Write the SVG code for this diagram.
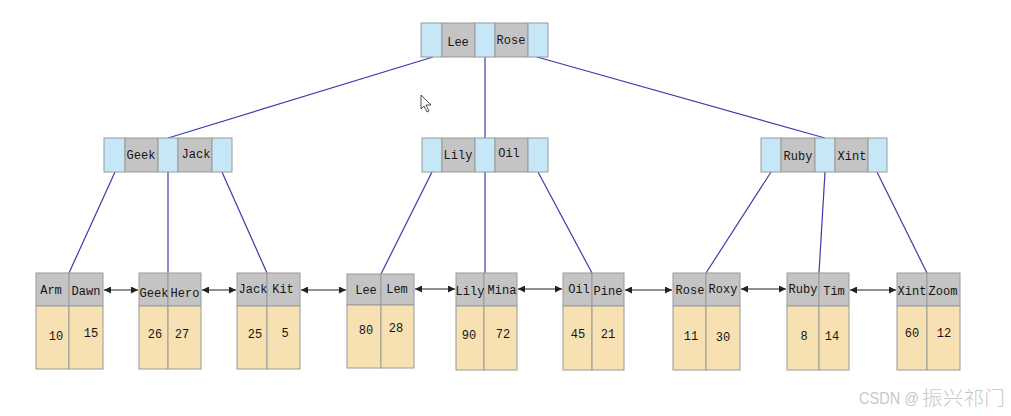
<svg xmlns="http://www.w3.org/2000/svg" width="1011" height="416" viewBox="0 0 1011 416">
<defs>
<style>
.p{fill:#c6e7f6;stroke:#9a9a9a;stroke-width:1}
.k{fill:#c4c4c4;stroke:#9a9a9a;stroke-width:1}
.d{fill:#f7e1b2;stroke:#9a9a9a;stroke-width:1}
.t{font-family:"Liberation Mono","Courier New",monospace;font-size:12px;fill:#151515;text-anchor:middle}
.e{stroke:#3b3bab;stroke-width:1.2;fill:none}
.a{stroke:#222;stroke-width:1;fill:none;marker-start:url(#ah);marker-end:url(#ah)}
.wm{font-family:"Liberation Sans","Noto Sans CJK SC",sans-serif;fill:#c8c8c8}
</style>
<marker id="ah" viewBox="0 0 10 10" refX="10" refY="5" markerWidth="9" markerHeight="7" markerUnits="userSpaceOnUse" orient="auto-start-reverse">
<path d="M0,0 L10,5 L0,10 z" fill="#222"/>
</marker>
</defs>
<rect width="1011" height="416" fill="#ffffff"/>

<g id="connectors">
<line class="e" x1="433" y1="57" x2="168" y2="138"/>
<line class="e" x1="485" y1="57" x2="485" y2="138"/>
<line class="e" x1="537" y1="57" x2="825" y2="138"/>
<line class="e" x1="115" y1="172" x2="69" y2="273"/>
<line class="e" x1="168" y1="172" x2="168" y2="273"/>
<line class="e" x1="222" y1="172" x2="267" y2="273"/>
<line class="e" x1="432" y1="172" x2="381" y2="274"/>
<line class="e" x1="485" y1="172" x2="485" y2="273"/>
<line class="e" x1="538" y1="172" x2="592" y2="273"/>
<line class="e" x1="771" y1="172" x2="706" y2="273"/>
<line class="e" x1="825" y1="172" x2="819" y2="273"/>
<line class="e" x1="877" y1="172" x2="927" y2="273"/>
<line class="a" x1="104" y1="290" x2="138" y2="290"/>
<line class="a" x1="202" y1="290" x2="236" y2="290"/>
<line class="a" x1="301" y1="290" x2="346" y2="290"/>
<line class="a" x1="415" y1="289" x2="455" y2="289"/>
<line class="a" x1="518" y1="289" x2="562" y2="289"/>
<line class="a" x1="625" y1="290" x2="672" y2="290"/>
<line class="a" x1="741" y1="289" x2="786" y2="289"/>
<line class="a" x1="850" y1="290" x2="896" y2="290"/>
</g>

<g id="root">
<rect class="p" x="421" y="23" width="21" height="34"/>
<rect class="k" x="442" y="23" width="33" height="34"/>
<rect class="p" x="475" y="23" width="20" height="34"/>
<rect class="k" x="495" y="23" width="33" height="34"/>
<rect class="p" x="528" y="23" width="20" height="34"/>
<text class="t" x="458" y="46">Lee</text>
<text class="t" x="511" y="44">Rose</text>
</g>

<g id="mid-left">
<rect class="p" x="104" y="138" width="21" height="34"/>
<rect class="k" x="125" y="138" width="33" height="34"/>
<rect class="p" x="158" y="138" width="20" height="34"/>
<rect class="k" x="178" y="138" width="34" height="34"/>
<rect class="p" x="212" y="138" width="20" height="34"/>
<text class="t" x="141" y="159">Geek</text>
<text class="t" x="196" y="158">Jack</text>
</g>

<g id="mid-center">
<rect class="p" x="422" y="138" width="20" height="34"/>
<rect class="k" x="442" y="138" width="33" height="34"/>
<rect class="p" x="475" y="138" width="20" height="34"/>
<rect class="k" x="495" y="138" width="33" height="34"/>
<rect class="p" x="528" y="138" width="20" height="34"/>
<text class="t" x="458" y="159">Lily</text>
<text class="t" x="509" y="157">Oil</text>
</g>

<g id="mid-right">
<rect class="p" x="761" y="138" width="20" height="34"/>
<rect class="k" x="781" y="138" width="34" height="34"/>
<rect class="p" x="815" y="138" width="20" height="34"/>
<rect class="k" x="835" y="138" width="33" height="34"/>
<rect class="p" x="868" y="138" width="19" height="34"/>
<text class="t" x="798" y="160">Ruby</text>
<text class="t" x="852" y="160">Xint</text>
</g>

<g id="leaf-arm">
<rect class="k" x="36" y="273" width="33" height="33"/><rect class="k" x="69" y="273" width="34" height="33"/>
<rect class="d" x="36" y="306" width="33" height="63"/><rect class="d" x="69" y="306" width="34" height="63"/>
<text class="t" x="51" y="294">Arm</text><text class="t" x="86" y="295">Dawn</text>
<text class="t" x="56" y="340">10</text><text class="t" x="91" y="337">15</text>
</g>
<g id="leaf-geek">
<rect class="k" x="139" y="273" width="29" height="33"/><rect class="k" x="168" y="273" width="33" height="33"/>
<rect class="d" x="139" y="306" width="29" height="63"/><rect class="d" x="168" y="306" width="33" height="63"/>
<text class="t" x="154" y="297">Geek</text><text class="t" x="185" y="297">Hero</text>
<text class="t" x="155" y="338">26</text><text class="t" x="182" y="338">27</text>
</g>
<g id="leaf-jack">
<rect class="k" x="237" y="273" width="30" height="33"/><rect class="k" x="267" y="273" width="33" height="33"/>
<rect class="d" x="237" y="306" width="30" height="63"/><rect class="d" x="267" y="306" width="33" height="63"/>
<text class="t" x="253" y="293">Jack</text><text class="t" x="283" y="293">Kit</text>
<text class="t" x="255" y="338">25</text><text class="t" x="285" y="337">5</text>
</g>
<g id="leaf-lee">
<rect class="k" x="347" y="274" width="34" height="31"/><rect class="k" x="381" y="274" width="33" height="31"/>
<rect class="d" x="347" y="305" width="34" height="63"/><rect class="d" x="381" y="305" width="33" height="63"/>
<text class="t" x="366" y="294">Lee</text><text class="t" x="397" y="293">Lem</text>
<text class="t" x="366" y="334">80</text><text class="t" x="396" y="332">28</text>
</g>
<g id="leaf-lily">
<rect class="k" x="456" y="273" width="28" height="33"/><rect class="k" x="484" y="273" width="33" height="33"/>
<rect class="d" x="456" y="306" width="28" height="64"/><rect class="d" x="484" y="306" width="33" height="64"/>
<text class="t" x="470" y="295">Lily</text><text class="t" x="502" y="294">Mina</text>
<text class="t" x="469" y="339">90</text><text class="t" x="503" y="338">72</text>
</g>
<g id="leaf-oil">
<rect class="k" x="563" y="273" width="29" height="33"/><rect class="k" x="592" y="273" width="32" height="33"/>
<rect class="d" x="563" y="306" width="29" height="64"/><rect class="d" x="592" y="306" width="32" height="64"/>
<text class="t" x="579" y="293">Oil</text><text class="t" x="608" y="295">Pine</text>
<text class="t" x="578" y="338">45</text><text class="t" x="608" y="338">21</text>
</g>
<g id="leaf-rose">
<rect class="k" x="673" y="273" width="33" height="33"/><rect class="k" x="706" y="273" width="34" height="33"/>
<rect class="d" x="673" y="306" width="33" height="64"/><rect class="d" x="706" y="306" width="34" height="64"/>
<text class="t" x="690" y="294">Rose</text><text class="t" x="723" y="293">Roxy</text>
<text class="t" x="691" y="340">11</text><text class="t" x="723" y="341">30</text>
</g>
<g id="leaf-ruby">
<rect class="k" x="787" y="273" width="32" height="33"/><rect class="k" x="819" y="273" width="30" height="33"/>
<rect class="d" x="787" y="306" width="32" height="64"/><rect class="d" x="819" y="306" width="30" height="64"/>
<text class="t" x="803" y="293">Ruby</text><text class="t" x="834" y="295">Tim</text>
<text class="t" x="804" y="340">8</text><text class="t" x="832" y="340">14</text>
</g>
<g id="leaf-xint">
<rect class="k" x="897" y="273" width="30" height="33"/><rect class="k" x="927" y="273" width="33" height="33"/>
<rect class="d" x="897" y="306" width="30" height="64"/><rect class="d" x="927" y="306" width="33" height="64"/>
<text class="t" x="912" y="295">Xint</text><text class="t" x="943" y="295">Zoom</text>
<text class="t" x="912" y="337">60</text><text class="t" x="944" y="337">12</text>
</g>

<path d="M421,95 L421,109 L424,106 L427,112 L429,111 L426,105 L431,105 Z" fill="#fff" stroke="#222" stroke-width="0.8"/>

<text class="wm" x="859" y="404" font-size="16.5" textLength="60" lengthAdjust="spacingAndGlyphs">CSDN @</text>
<text class="wm" x="922" y="405" font-size="19" font-weight="300" textLength="83" lengthAdjust="spacingAndGlyphs">振兴祁门</text>
</svg>
